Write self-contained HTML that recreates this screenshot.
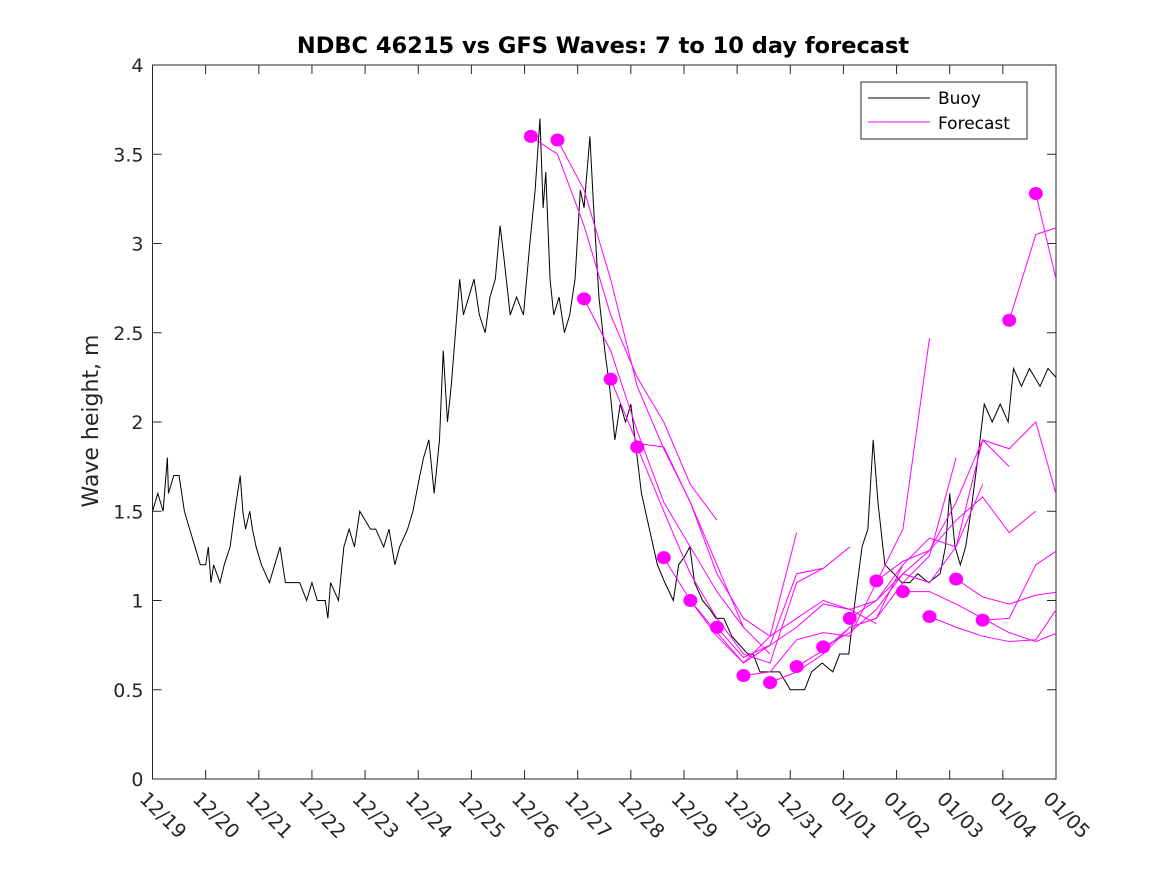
<!DOCTYPE html>
<html><head><meta charset="utf-8"><style>
body{margin:0;background:#fff;}
svg text{font-family:"DejaVu Sans","Liberation Sans",sans-serif;}
</style></head><body>
<svg id="chart" width="1167" height="875" viewBox="0 0 1167 875" xmlns="http://www.w3.org/2000/svg">
<rect width="1167" height="875" fill="#fff"/>
<text x="603" y="53" text-anchor="middle" font-size="22.5" font-weight="bold" fill="#000">NDBC 46215 vs GFS Waves: 7 to 10 day forecast</text>
<text transform="translate(98,421) rotate(-90)" text-anchor="middle" font-size="22" fill="#262626">Wave height, m</text>
<defs><clipPath id="clip"><rect x="152.5" y="65" width="903.5" height="714"/></clipPath></defs>
<g id="axes"></g>
<g id="series" clip-path="url(#clip)"></g>
<g id="dots"></g>
<g>
<rect x="861" y="82" width="166" height="57" fill="#fff" stroke="#262626" stroke-width="1"/>
<line x1="868" y1="98" x2="930" y2="98" stroke="#000" stroke-width="1"/>
<text x="938" y="104" font-size="17" fill="#000">Buoy</text>
<line x1="868" y1="122" x2="930" y2="122" stroke="#f0f" stroke-width="1"/>
<text x="938" y="129" font-size="17" fill="#000">Forecast</text>
</g>
</svg>
<script>
const xTickLabels=["12/19","12/20","12/21","12/22","12/23","12/24","12/25","12/26","12/27","12/28","12/29","12/30","12/31","01/01","01/02","01/03","01/04","01/05"];
const yTickLabels=["0","0.5","1","1.5","2","2.5","3","3.5","4"];
const buoyDays=[0,0.1,0.2,0.28,0.3,0.4,0.5,0.55,0.6,0.7,0.8,0.9,1.0,1.05,1.1,1.15,1.27,1.35,1.46,1.55,1.65,1.7,1.75,1.83,1.88,1.95,2.05,2.2,2.3,2.4,2.45,2.5,2.77,2.9,3.0,3.1,3.25,3.3,3.35,3.5,3.6,3.7,3.8,3.9,4.1,4.2,4.35,4.45,4.56,4.65,4.8,4.9,5.03,5.1,5.2,5.3,5.4,5.47,5.55,5.62,5.7,5.78,5.85,5.95,6.05,6.15,6.26,6.35,6.45,6.54,6.62,6.73,6.85,6.98,7.1,7.2,7.29,7.35,7.4,7.48,7.55,7.65,7.75,7.85,7.95,8.05,8.12,8.23,8.3,8.4,8.51,8.6,8.7,8.8,8.9,9.0,9.08,9.2,9.35,9.5,9.64,9.8,9.9,10.02,10.11,10.2,10.35,10.49,10.6,10.75,10.9,11.05,11.2,11.3,11.43,11.6,11.8,12.0,12.27,12.4,12.6,12.8,12.93,13.1,13.22,13.35,13.46,13.56,13.65,13.78,13.95,14.1,14.25,14.4,14.6,14.82,14.92,15.0,15.1,15.2,15.3,15.4,15.53,15.65,15.8,15.95,16.1,16.2,16.35,16.5,16.7,16.85,17.0];
const buoyVals=[1.5,1.6,1.5,1.8,1.6,1.7,1.7,1.6,1.5,1.4,1.3,1.2,1.2,1.3,1.1,1.2,1.1,1.2,1.3,1.5,1.7,1.5,1.4,1.5,1.4,1.3,1.2,1.1,1.2,1.3,1.2,1.1,1.1,1.0,1.1,1.0,1.0,0.9,1.1,1.0,1.3,1.4,1.3,1.5,1.4,1.4,1.3,1.4,1.2,1.3,1.4,1.5,1.7,1.8,1.9,1.6,1.9,2.4,2.0,2.2,2.5,2.8,2.6,2.7,2.8,2.6,2.5,2.7,2.8,3.1,2.9,2.6,2.7,2.6,3.0,3.3,3.7,3.2,3.4,2.8,2.6,2.7,2.5,2.6,2.8,3.3,3.2,3.6,3.2,2.7,2.4,2.2,1.9,2.1,2.0,2.1,1.9,1.6,1.4,1.2,1.1,1.0,1.2,1.25,1.3,1.1,1.0,0.95,0.9,0.9,0.8,0.75,0.7,0.7,0.6,0.6,0.6,0.5,0.5,0.6,0.65,0.6,0.7,0.7,1.0,1.3,1.4,1.9,1.55,1.2,1.15,1.1,1.1,1.15,1.1,1.15,1.3,1.6,1.3,1.2,1.3,1.5,1.8,2.1,2.0,2.1,2.0,2.3,2.2,2.3,2.2,2.3,2.25];
const fcStarts=[7.12,7.62,8.12,8.62,9.12,9.62,10.12,10.62,11.12,11.62,12.12,12.62,13.12,13.62,14.12,14.62,15.12,15.62,16.12,16.62];
const fc0=[3.6,3.5,3.1,2.6,2.25,2.0,1.65,1.45];
const fc1=[3.58,3.3,2.8,2.2,1.85,1.55,1.2,0.85];
const fc2=[2.69,2.4,1.95,1.55,1.3,1.05,0.85,0.7];
const fc3=[2.24,1.88,1.86,1.55,1.15,0.9,0.8,1.38];
const fc4=[1.86,1.5,1.15,0.9,0.7,0.65,1.1,1.18];
const fc5=[1.24,1.0,0.82,0.65,0.75,1.15,1.18,1.3];
const fc6=[1.0,0.8,0.65,0.8,0.9,1.0,0.95,0.87];
const fc7=[0.85,0.68,0.75,0.85,0.98,0.95,1.0,1.2];
const fc8=[0.58,0.6,0.78,0.82,0.8,1.1,1.4,2.47];
const fc9=[0.54,0.6,0.7,0.85,0.9,1.1,1.25,1.8];
const fc10=[0.63,0.72,0.85,0.9,1.2,1.35,1.3,1.65];
const fc11=[0.74,0.82,0.95,1.15,1.1,1.3,1.9,1.75];
const fc12=[0.9,1.0,1.15,1.28,1.45,1.58,1.38,1.5];
const fc13=[1.11,1.22,1.28,1.55,1.9,1.85,2.0,1.47];
const fc14=[1.05,1.05,0.98,0.9,0.82,0.77,0.83,1.2];
const fc15=[0.91,0.85,0.8,0.77,0.78,1.0,1.12,1.2];
const fc16=[1.12,1.02,0.98,1.03,1.05,1.1,1.2,1.3];
const fc17=[0.89,0.9,1.2,1.3,1.25,1.2,1.15,1.1];
const fc18=[2.57,3.05,3.1,2.2,1.8,1.6,1.5,1.4];
const fc19=[3.28,2.65,2.2,2.0,1.8,1.6,1.5,1.4];
const forecasts=[fc0,fc1,fc2,fc3,fc4,fc5,fc6,fc7,fc8,fc9,fc10,fc11,fc12,fc13,fc14,fc15,fc16,fc17,fc18,fc19];

const X0=152.5,X1=1056,Y0=779,Y1=65;
const xs=d=>X0+d*(X1-X0)/17;
const ys=v=>Y0-v*(Y0-Y1)/4;
const NS="http://www.w3.org/2000/svg";
function mk(tag,attrs,parent){const e=document.createElementNS(NS,tag);for(const k in attrs)e.setAttribute(k,attrs[k]);parent.appendChild(e);return e;}
const axes=document.getElementById('axes'),series=document.getElementById('series'),dots=document.getElementById('dots');
const box=mk('rect',{x:X0,y:Y1,width:X1-X0,height:Y0-Y1,fill:'none',stroke:'#262626','stroke-width':1},axes);


xTickLabels.forEach((l,i)=>{const x=xs(i);
 const t1=mk('line',{x1:x,y1:Y0,x2:x,y2:Y0-9,stroke:'#262626'},axes);
 
 
 const t2=mk('line',{x1:x,y1:Y1,x2:x,y2:Y1+9,stroke:'#262626'},axes);
 
 
 const tx=mk('text',{x:x-14,y:Y0+21,'font-size':19.5,fill:'#262626',transform:`rotate(45 ${x-14} ${Y0+21})`},axes);
 tx.textContent=l;
 
 
});
yTickLabels.forEach((l,i)=>{const y=ys(i*0.5);
 const t1=mk('line',{x1:X0,y1:y,x2:X0+9,y2:y,stroke:'#262626'},axes);
 
 
 const t2=mk('line',{x1:X1,y1:y,x2:X1-9,y2:y,stroke:'#262626'},axes);
 
 
 const tx=mk('text',{x:X0-9,y:y+7,'font-size':19,fill:'#262626','text-anchor':'end'},axes);
 tx.textContent=l;
 
 
});
const bp=mk('polyline',{points:buoyDays.map((d,i)=>xs(d)+','+ys(buoyVals[i])).join(' '),fill:'none',stroke:'#000','stroke-width':1},series);


forecasts.forEach((f,k)=>{
 const pl=mk('polyline',{points:f.map((v,i)=>xs(fcStarts[k]+i*0.5)+','+ys(v)).join(' '),fill:'none',stroke:'#f0f','stroke-width':1},series);
 
 
 const c=mk('ellipse',{cx:xs(fcStarts[k]),cy:ys(f[0]),rx:7,ry:6.5,fill:'#f0f'},dots);
 
 
});
</script>
</body></html>
